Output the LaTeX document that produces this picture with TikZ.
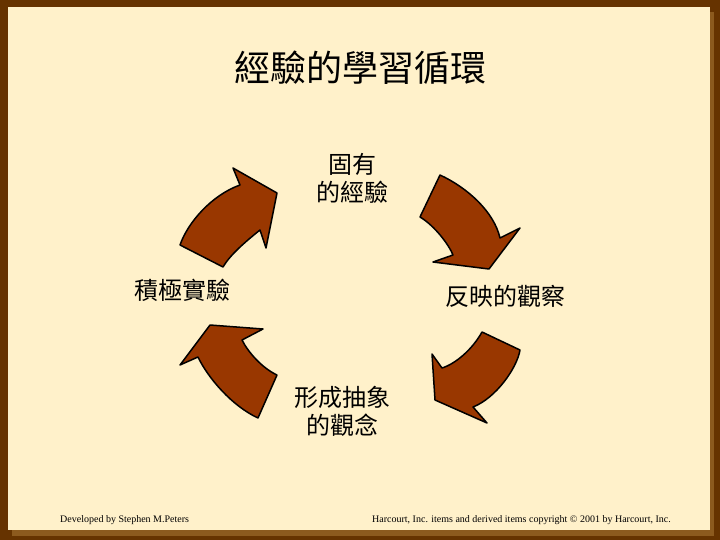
\documentclass[tikz,border=0pt]{standalone}
\usepackage{fontspec}
\setmainfont{Liberation Serif}
\newfontfamily\cjk{Noto Sans CJK TC}
\usetikzlibrary{positioning}

\definecolor{framedark}{RGB}{102,51,0}
\definecolor{frameshade}{RGB}{140,90,30}
\definecolor{panel}{RGB}{255,241,202}
\definecolor{arrowbrown}{RGB}{153,55,0}

\begin{document}
\begin{tikzpicture}[
    x=1pt, y=-1pt,
    % --- STYLES ---
    heading/.style={font=\cjk\fontsize{36}{40}\selectfont, inner sep=0pt},
    stage/.style={
        font=\cjk\fontsize{24}{28}\selectfont,
        align=center, inner sep=0pt
    },
    cyclearrow/.style={
        fill=arrowbrown, draw=black,
        line width=1.5pt, line join=round
    },
    credit/.style={font=\fontsize{10}{12}\selectfont, inner sep=0pt, anchor=west}
]

% ===== 1. FRAME =====
\useasboundingbox (0,0) rectangle (720,540);
\fill[framedark] (0,0) rectangle (720,540);
\fill[frameshade] (12,12) rectangle (714,536);
\fill[panel] (8,7) rectangle (710,530);

% ===== 2. TITLE =====
\node[heading] (title) at (360,68) {經驗的學習循環};

% ===== 3. STAGES =====
\node[stage] (exp) at (352,178) {固有\\的經驗};
\node[stage] (obs) at (505,296) {反映的觀察};
\node[stage] (abs) at (342,411) {形成抽象\\的觀念};
\node[stage] (act) at (182,290) {積極實驗};

% ===== 4. CYCLE ARROWS =====
% 積極實驗 -> 固有的經驗
\draw[cyclearrow] (180,245) .. controls (188,222) and (212,195) .. (240,185)
    -- (233,168) -- (277,193) -- (266,248) -- (260,230)
    .. controls (245,242) and (230,255) .. (223,267) -- cycle;

% 固有的經驗 -> 反映的觀察
\draw[cyclearrow] (440,175) .. controls (468,188) and (494,212) .. (500,238)
    -- (520,228) -- (489,269) -- (433,262) -- (453,255)
    .. controls (449,245) and (435,226) .. (420,217) -- cycle;

% 反映的觀察 -> 形成抽象的觀念
\draw[cyclearrow] (520,350) .. controls (517,368) and (496,398) .. (473,407)
    -- (487,423) -- (435,400) -- (432,354) -- (442,368)
    .. controls (455,364) and (472,350) .. (482,332) -- cycle;

% 形成抽象的觀念 -> 積極實驗
\draw[cyclearrow] (258,418) .. controls (232,406) and (208,378) .. (198,357)
    -- (180,365) -- (210,325) -- (263,329) -- (242,340)
    .. controls (248,352) and (262,368) .. (277,375) -- cycle;

% ===== 5. FOOTER =====
\node[credit] (author) at (60,520) {Developed by Stephen M.Peters};
\node[credit] (copy) at (372,520) {Harcourt, Inc. items and derived items copyright \textcopyright\ 2001 by Harcourt, Inc.};

\end{tikzpicture}
\end{document}
